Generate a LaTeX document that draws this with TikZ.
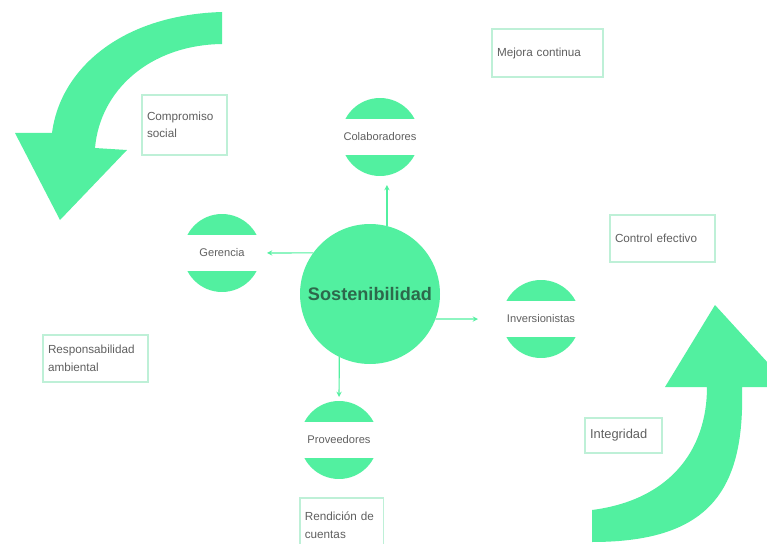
\documentclass[tikz,border=0pt]{standalone}
\usepackage{fontspec}
\setmainfont{Liberation Sans}
\usetikzlibrary{positioning}
\definecolor{mint}{RGB}{82,240,160}
\definecolor{paleline}{RGB}{190,240,215}
\definecolor{labelgray}{RGB}{95,95,95}
\definecolor{hubtext}{RGB}{45,105,75}

\begin{document}
\begin{tikzpicture}[x=0.3mm, y=-0.3mm,
  note/.style={rectangle, draw=paleline, line width=0.4mm, align=left, text=labelgray,
    inner xsep=1.5mm, font=\fontsize{10}{15}\selectfont},
  stake/.style={circle, minimum size=23.4mm, inner sep=0pt, outer sep=0pt,
    text=labelgray, font=\fontsize{9.5}{11}\selectfont,
    path picture={\fill[mint] (path picture bounding box.north west)
      rectangle ([yshift=5.4mm]path picture bounding box.east);
      \fill[mint] ([yshift=-5.4mm]path picture bounding box.west)
      rectangle (path picture bounding box.south east);}},
  hub/.style={circle, fill=mint, minimum size=42mm, inner sep=0pt, outer sep=0pt,
    text=hubtext, font=\fontsize{15.5}{18}\selectfont\bfseries},
  link/.style={-stealth, draw=mint, line width=0.35mm}]
\useasboundingbox (0,0) rectangle (767,544);
\clip (0,0) rectangle (767,544);

% big turning arrows
\fill[mint] (222,12) .. controls (120,15) and (60,70) .. (52,133)
  -- (15,133) -- (60,220) -- (127,150) -- (95,148)
  .. controls (100,90) and (150,45) .. (222,44) -- cycle;
\fill[mint] (592,510) .. controls (670,500) and (707,450) .. (707,387)
  -- (665,387) -- (715,305) -- (790,387) -- (742,387)
  .. controls (745,490) and (710,542) .. (592,542) -- cycle;

% notes
\node[note, text width=22.5mm, minimum height=18mm] (social) at (184.5,125) {Compromiso\\social};
\node[note, text width=30.3mm, minimum height=14.4mm] (mejora) at (547.5,53) {Mejora continua};
\node[note, text width=28.5mm, minimum height=14.1mm] (control) at (662.5,238.5) {Control efectivo};
\node[note, text width=28.5mm, minimum height=14.1mm] (ambiental) at (95.5,358.5) {Responsabilidad\\ambiental};
\node[note, text width=20.1mm, minimum height=10.5mm, font=\fontsize{11}{13}\selectfont] (integridad) at (623.5,435.5) {Integridad};
\node[note, text width=22mm, minimum height=16.2mm] (cuentas) at (341.5,525) {Rendición de\\cuentas};

% stakeholders
\node[hub] (hub) at (370,294) {Sostenibilidad};
\node[stake] (colab) at (380,137) {Colaboradores};
\node[stake] (ger) at (222,253) {Gerencia};
\node[stake] (inv) at (541,319) {Inversionistas};
\node[stake] (prov) at (339,440) {Proveedores};

\draw[link, shorten >=2.7mm] (hub.76) -- (hub.76 |- colab.south);
\draw[link, shorten >=1.8mm] (hub.144) -- (ger.east);
\draw[link, shorten >=7.2mm] (hub.-21) -- (inv.west);
\draw[link, shorten >=1.2mm] (hub.-116) -- (prov.north);
\end{tikzpicture}
\end{document}
